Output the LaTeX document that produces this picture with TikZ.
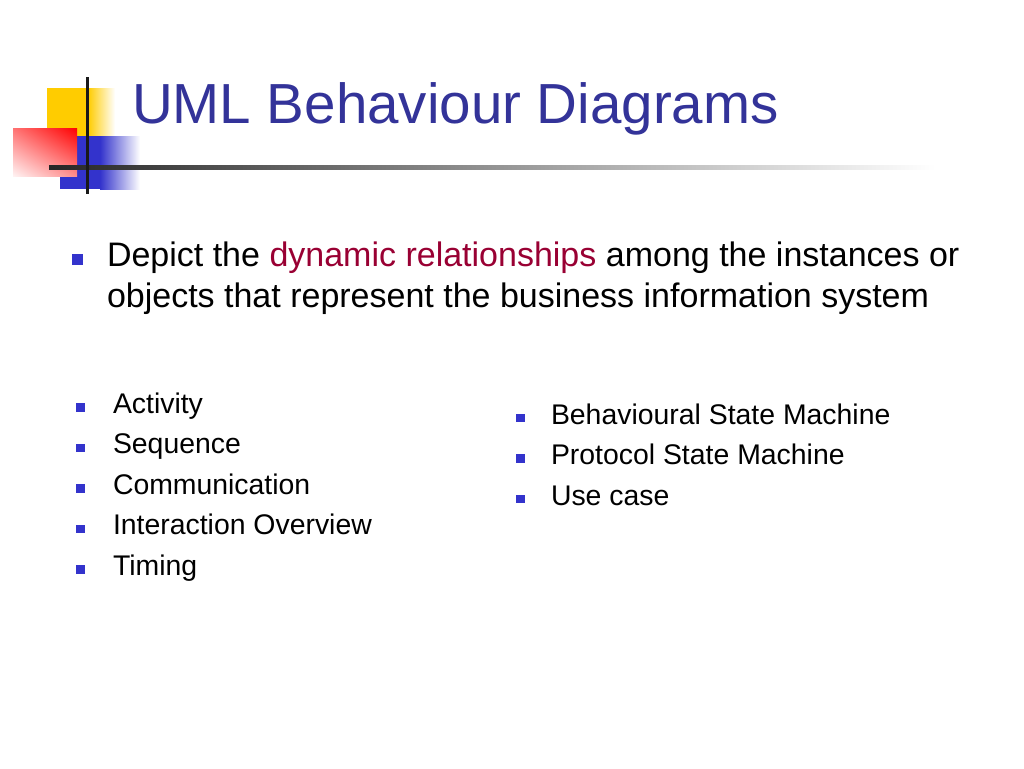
\documentclass[tikz,border=0pt]{standalone}
\usepackage{fontspec}
\setmainfont{Liberation Sans}
\usepackage{xcolor}
\usepackage{tikz}
\usetikzlibrary{positioning, calc, shadings}
\definecolor{titleblue}{rgb}{0.2, 0.2, 0.6}
\definecolor{bulletblue}{rgb}{0.2, 0.2, 0.8}
\definecolor{logoyellow}{rgb}{1, 0.8, 0}
\definecolor{logoblue}{rgb}{0.2, 0.2, 0.8}
\definecolor{darkred}{rgb}{0.6, 0, 0.2}

\begin{document}
\begin{tikzpicture}[x=1pt, y=-1pt, every node/.style={inner sep=0pt, outer sep=0pt},
		bullet/.style={fill=bulletblue, minimum size=8.5pt},
		item/.style={anchor=base west, font=\fontsize{28.4}{40.5}\selectfont},
		point/.style={anchor=base west, font=\fontsize{34}{40.5}\selectfont}]
		\useasboundingbox[fill=white] (0,0) rectangle (1024,768);
		%% logo
		\fill[logoyellow] (47,88) rectangle (88,137);
		\shade[left color=logoyellow, right color=white] (88,88) rectangle (115,137);
		\fill[logoblue] (60,136) rectangle (100,189);
		\shade[left color=logoblue, right color=white] (100,136) rectangle (140,189);
		\shade[upper left=red!55, upper right=red, lower left=red!5, lower right=red!45] (13,128) rectangle (77,176);
		\shade[left color=black!85, right color=white] (49,165) rectangle (935,169);
		\fill[black!90] (85.7,77) rectangle (88.7,194);
		%% title
		\node[anchor=base west, text=titleblue, font=\fontsize{56.5}{60}\selectfont] (title) at (132,123) {UML Behaviour Diagrams};
		%% main point
		\node[bullet, minimum size=10.5pt] (b0) at (77.5,259.5) {};
		\node[point] (main1) at (107,266.7) {Depict the \textcolor{darkred}{dynamic relationships} among the instances or};
		\node[point] (main2) at (107,307.2) {objects that represent the business information system};
		%% left list
		\foreach \t [count=\i] in {Activity, Sequence, Communication, Interaction Overview, Timing}
		{
			\node[item] (l\i) at (113,413.3+40.5*\i-40.5) {\t};
			\node[bullet] (lb\i) at (80.5,407.3+40.5*\i-40.5) {};
		}
		%% right list
		\foreach \t [count=\i] in {Behavioural State Machine, Protocol State Machine, Use case}
		{
			\node[item] (r\i) at (551,424+40.5*\i-40.5) {\t};
			\node[bullet] (rb\i) at (520.5,418+40.5*\i-40.5) {};
		}
\end{tikzpicture}
\end{document}
